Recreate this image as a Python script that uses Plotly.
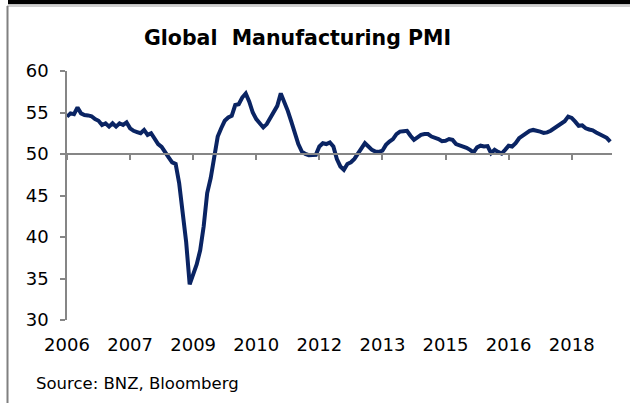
import plotly.graph_objects as go

# Monthly Global Manufacturing PMI, Jan 2006 .. Dec 2018
pmi = [
    54.5, 54.9, 54.8, 55.6, 54.9, 54.7, 54.65, 54.55, 54.2, 54.0, 53.5, 53.7,   # 2006
    53.3, 53.7, 53.3, 53.7, 53.5, 53.8, 53.1, 52.8, 52.65, 52.5, 52.9, 52.3,    # 2007
    52.5, 51.9, 51.2, 50.85, 50.3, 49.6, 49.0, 48.8, 46.5, 43.1, 39.4, 34.3,    # 2008
    35.5, 36.7, 38.4, 41.3, 45.3, 47.1, 49.6, 52.1, 53.1, 54.0, 54.4, 54.6,     # 2009
    55.9, 56.0, 56.8, 57.3, 56.3, 55.0, 54.2, 53.7, 53.2, 53.6, 54.4, 55.0,     # 2010
    55.8, 57.3, 56.3, 55.2, 53.9, 52.4, 51.2, 50.3, 50.0, 49.85, 49.85, 49.9,   # 2011
    50.9, 51.3, 51.2, 51.4, 50.9, 49.4, 48.5, 48.1, 48.8, 49.0, 49.4, 50.0,     # 2012
    50.8, 51.3, 50.9, 50.5, 50.3, 50.25, 50.4, 51.1, 51.5, 51.8, 52.4, 52.7,    # 2013
    52.75, 52.8, 52.2, 51.7, 52.0, 52.3, 52.4, 52.4, 52.1, 52.0, 51.8, 51.55,   # 2014
    51.6, 51.8, 51.7, 51.2, 51.05, 50.95, 50.75, 50.5, 50.2, 50.8, 51.0, 50.9,  # 2015
    50.95, 50.1, 50.5, 50.25, 50.05, 50.5, 51.0, 50.9, 51.3, 51.9, 52.2, 52.5,  # 2016
    52.8, 52.9, 52.85, 52.7, 52.55, 52.6, 52.8, 53.1, 53.3, 53.6, 53.95, 54.5,  # 2017
    54.35, 53.9, 53.4, 53.45, 53.1, 52.95, 52.85, 52.6, 52.35, 52.1, 51.95, 51.5, # 2018
]
months = list(range(len(pmi)))

tick_positions = [0, 18, 36, 54, 72, 90, 108, 126, 144]
tick_labels = ["2006", "2007", "2009", "2010", "2012", "2013", "2015", "2016", "2018"]
y_ticks = [30, 35, 40, 45, 50, 55, 60]

title_text = "Global  Manufacturing PMI"
source_text = "Source: BNZ, Bloomberg"

LINE = "#0a2463"
AXIS = "#868686"
FONT = "DejaVu Sans"

W, H = 630, 403
L, R, T, B = 67, 18, 71, 83
PW, PH = W - L - R, H - T - B


def px(xp):
    return (xp - L) / PW


def py(yp):
    return (H - B - yp) / PH


fig = go.Figure()
# invisible companion trace so the crossing axis at 50 is drawn
fig.add_trace(go.Scatter(
    x=months, y=pmi, mode="lines",
    line=dict(color="rgba(0,0,0,0)", width=0),
    xaxis="x2", yaxis="y", hoverinfo="skip", showlegend=False,
))
fig.add_trace(go.Scatter(
    x=months, y=pmi, mode="lines",
    line=dict(color=LINE, width=4),
    xaxis="x", yaxis="y", hoverinfo="skip", showlegend=False,
))

x_range = [0, len(pmi) - 0.5]

fig.update_layout(
    width=W, height=H,
    margin=dict(l=L, r=R, t=T, b=B),
    paper_bgcolor="white", plot_bgcolor="white",
    font=dict(family=FONT, color="black", size=18),
    showlegend=False,
    title=dict(
        text="<b>" + title_text + "</b>",
        x=297.5 / W, xanchor="center",
        y=1 - 38 / H, yanchor="middle",
        font=dict(family=FONT, size=20.5, color="black"),
    ),
    xaxis=dict(
        range=x_range, showgrid=False, zeroline=False, showline=False,
        tickmode="array", tickvals=tick_positions, ticktext=tick_labels,
        ticks="", tickfont=dict(size=18, family=FONT, color="black"),
        ticklabelstandoff=12,
    ),
    xaxis2=dict(
        range=x_range, overlaying="x", anchor="free",
        position=(50 - 30) / (60 - 30),
        showgrid=False, zeroline=False, showline=True,
        linecolor=AXIS, linewidth=1.5,
        tickmode="array", tickvals=tick_positions,
        ticks="outside", ticklen=5, tickcolor=AXIS, tickwidth=1.5,
        showticklabels=False,
    ),
    yaxis=dict(
        range=[30, 60], tickmode="array", tickvals=y_ticks,
        showgrid=False, zeroline=False, showline=True,
        linecolor=AXIS, linewidth=1.5,
        ticks="outside", ticklen=5, tickcolor=AXIS, tickwidth=1.5,
        tickfont=dict(size=18, family=FONT, color="black"),
        ticklabelstandoff=8,
    ),
)

# frame decorations: black band on top, thin grey rules top and left
fig.add_shape(type="rect", xref="paper", yref="paper",
              x0=px(8), x1=px(W + 2), y0=py(4.3), y1=py(-2),
              fillcolor="black", line_width=0, layer="above")
fig.add_shape(type="line", xref="paper", yref="paper",
              x0=px(7), x1=px(W + 2), y0=py(6), y1=py(6),
              line=dict(color="#a0a0a0", width=1))
fig.add_shape(type="line", xref="paper", yref="paper",
              x0=px(7.5), x1=px(7.5), y0=py(6), y1=py(H + 2),
              line=dict(color="#808080", width=2))

fig.add_annotation(
    text=source_text, xref="paper", yref="paper",
    x=px(34), y=py(383), xanchor="left", yanchor="middle",
    showarrow=False, font=dict(family=FONT, size=16.5, color="black"),
)

fig.write_html("out.html")
